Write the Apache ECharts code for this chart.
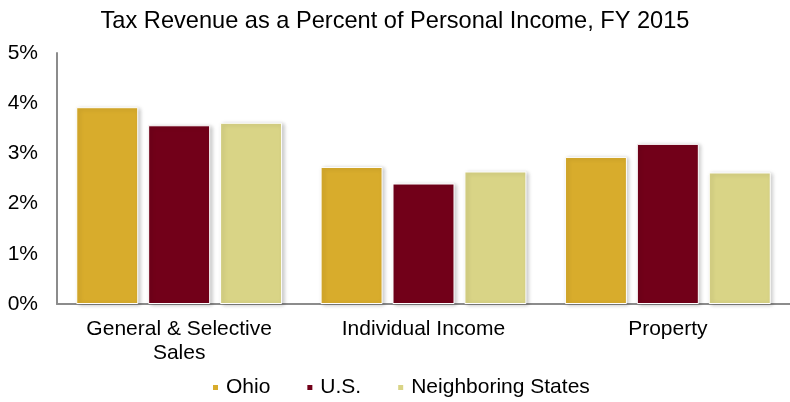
<!DOCTYPE html>
<html><head><meta charset="utf-8">
<script src="https://cdn.jsdelivr.net/npm/echarts@6/dist/echarts.min.js"></script>
<style>html,body{margin:0;padding:0;background:#fff}#c{width:790px;height:402px}</style>
</head><body><div id="c"></div>
<script>
const categories = ['General & Selective\nSales', 'Individual Income', 'Property'];
const ohio = [3.92, 2.73, 2.93];
const us = [3.56, 2.40, 3.19];
const neighboring = [3.61, 2.64, 2.62];
const seriesNames = ['Ohio', 'U.S.', 'Neighboring States'];
const colors = ['#D8AC2C', '#720019', '#D9D486'];

const font = '"Liberation Sans", Arial, sans-serif';
const chart = echarts.init(document.getElementById('c'));
const mk = (name, data, color) => ({
  name, type: 'bar', data, barWidth: 62, barGap: '16%',
  itemStyle: { color, borderColor: '#fff', borderWidth: 1,
    shadowColor: 'rgba(0,0,0,0.22)', shadowBlur: 4, shadowOffsetX: 2, shadowOffsetY: 1 }
});
chart.setOption({
  animation: false,
  textStyle: { fontFamily: font },
  title: { text: 'Tax Revenue as a Percent of Personal Income, FY 2015', left: 'center', top: 4,
    textStyle: { fontFamily: font, fontSize: 23.6, fontWeight: 'normal', color: '#000' } },
  legend: { bottom: -1, left: 206, itemWidth: 7, itemHeight: 7, itemGap: 35,
    icon: 'rect', textStyle: { fontFamily: font, fontSize: 21, color: '#000', padding: [0, 0, 0, 2] }, data: seriesNames },
  grid: { left: 57, top: 53, width: 736, height: 251 },
  xAxis: { type: 'category', data: categories,
    axisLine: { lineStyle: { color: '#8c8c8c', width: 2 } }, axisTick: { show: false },
    axisLabel: { fontFamily: font, fontSize: 21, color: '#000', margin: 13, lineHeight: 24 } },
  yAxis: { type: 'value', min: 0, max: 5, interval: 1,
    axisLine: { show: true, lineStyle: { color: '#8c8c8c', width: 2 } }, axisTick: { show: false },
    splitLine: { show: false },
    axisLabel: { fontFamily: font, fontSize: 21, color: '#000', margin: 19, formatter: v => v + '%' } },
  series: [mk(seriesNames[0], ohio, colors[0]), mk(seriesNames[1], us, colors[1]), mk(seriesNames[2], neighboring, colors[2])]
});
</script></body></html>
